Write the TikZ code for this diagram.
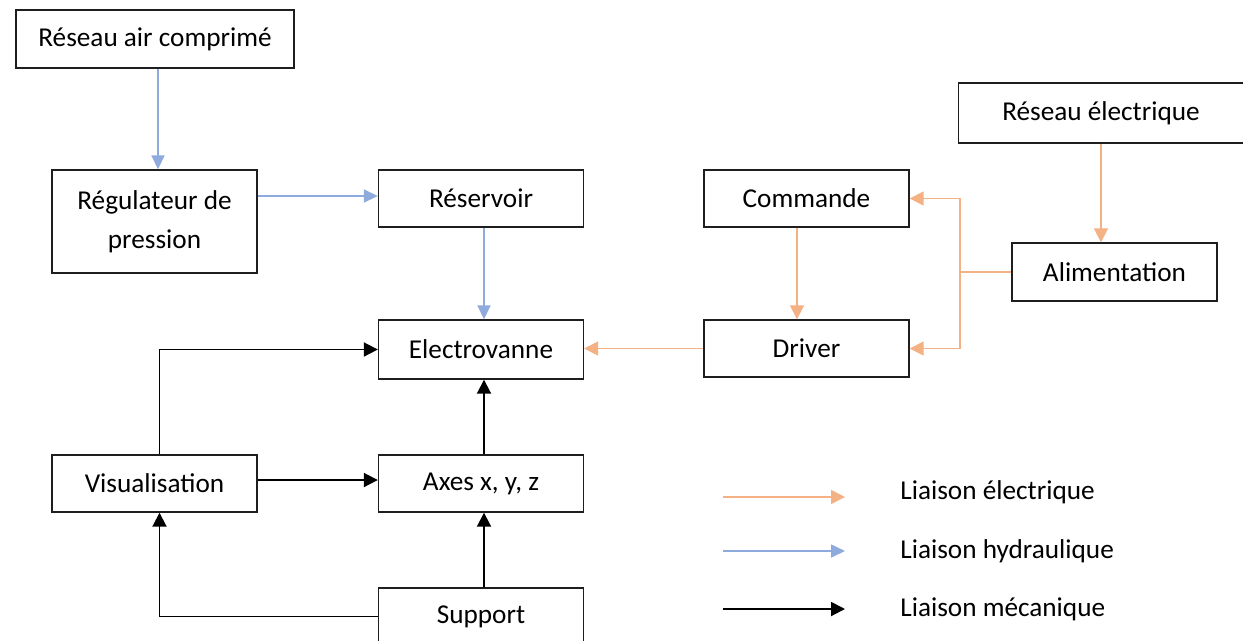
\documentclass[tikz,border=0pt]{standalone}
\usepackage{fontspec}
\setmainfont{Carlito}
\usepackage{tikz}
\usetikzlibrary{positioning,arrows.meta,calc}
\definecolor{elecorange}{RGB}{244,177,131}
\definecolor{hydblue}{RGB}{143,170,220}
\definecolor{boxline}{RGB}{30,30,30}
\tikzset{
  blk/.style ={rectangle, draw=boxline, line width=0.8pt, fill=white, align=center,
               font=\fontsize{15.5}{22}\selectfont, minimum width=4.1cm, minimum height=1.14cm,
               inner sep=0pt},
  elec/.style={-{Triangle[length=2.8mm,width=2.8mm]}, line width=0.95pt, draw=elecorange, color=elecorange},
  hyd/.style ={-{Triangle[length=2.8mm,width=2.6mm]}, line width=0.95pt, draw=hydblue, color=hydblue},
  meca/.style={-{Triangle[length=2.8mm,width=2.8mm]}, line width=1.1pt, draw=black},
  lgd/.style ={anchor=west, font=\fontsize{15.5}{19}\selectfont, inner sep=0pt},
}
\begin{document}
\begin{tikzpicture}[x=0.02cm, y=-0.02cm]
\useasboundingbox (0,0) rectangle (1243,640);
\fill[white] (0,0) rectangle (1243,640);
% boxes
\node[blk, minimum width=5.56cm, minimum height=1.16cm] (ra) at (155,39) {Réseau air comprimé};
\node[blk, minimum height=2.06cm] (reg) at (154.5,221.5) {Régulateur de\\pression};
\node[blk] (res) at (481,198.5) {Réservoir};
\node[blk] (cmd) at (806.5,198.5) {Commande};
\node[blk, minimum width=5.7cm, minimum height=1.2cm] (re) at (1101,113) {Réseau électrique};
\node[blk, minimum height=1.16cm] (alim) at (1114.5,272) {Alimentation};
\node[blk] (drv) at (806.5,348.5) {Driver};
\node[blk, minimum height=1.18cm] (ev) at (481,349.5) {Electrovanne};
\node[blk] (vis) at (154.5,483.5) {Visualisation};
\node[blk] (axes) at (481,483.5) {Axes x, y, z};
\node[blk] (sup) at (481,616.5) {Support};
% hydraulique
\draw[hyd] ([xshift=0.06cm]ra.south) -- ([xshift=0.06cm]ra.south |- reg.north);
\draw[hyd] ([yshift=0.51cm]reg.east) -- ([yshift=0.51cm]reg.east -| res.west);
\draw[hyd] ([xshift=0.06cm]res.south) -- ([xshift=0.06cm]ev.north);
% electrique
\coordinate (j) at (960,272);
\draw[elec] (re.south) -- (re.south |- alim.north);
\draw[elec] (alim.west) -- (j) |- (cmd.east);
\draw[elec] (j) |- (drv.east);
\draw[elec] ([xshift=-0.19cm]cmd.south) -- ([xshift=-0.19cm]drv.north);
\draw[elec] (drv.west) -- (drv.west -| ev.east);
% mecanique
\draw[meca] ([xshift=0.1cm]vis.north) |- (ev.west);
\draw[meca] ([yshift=0.07cm]vis.east) -- ([yshift=0.07cm]vis.east -| axes.west);
\draw[meca] ([xshift=0.06cm]axes.north) -- ([xshift=0.06cm]ev.south);
\draw[meca] ([xshift=0.06cm]sup.north) -- ([xshift=0.06cm]axes.south);
\draw[meca] (sup.west) -| ([xshift=0.1cm]vis.south);
% legende
\coordinate (l1a) at (723,497); \coordinate (l1b) at (845,497);
\coordinate (l2a) at (723,551); \coordinate (l2b) at (845,551);
\coordinate (l3a) at (723,609); \coordinate (l3b) at (845,609);
\draw[elec] (l1a) -- (l1b);
\draw[hyd] (l2a) -- (l2b);
\draw[meca] (l3a) -- (l3b);
\node[lgd] (t1) at (900,492) {Liaison électrique};
\node[lgd] (t2) at (900,551) {Liaison hydraulique};
\node[lgd] (t3) at (900,609) {Liaison mécanique};
\end{tikzpicture}
\end{document}
